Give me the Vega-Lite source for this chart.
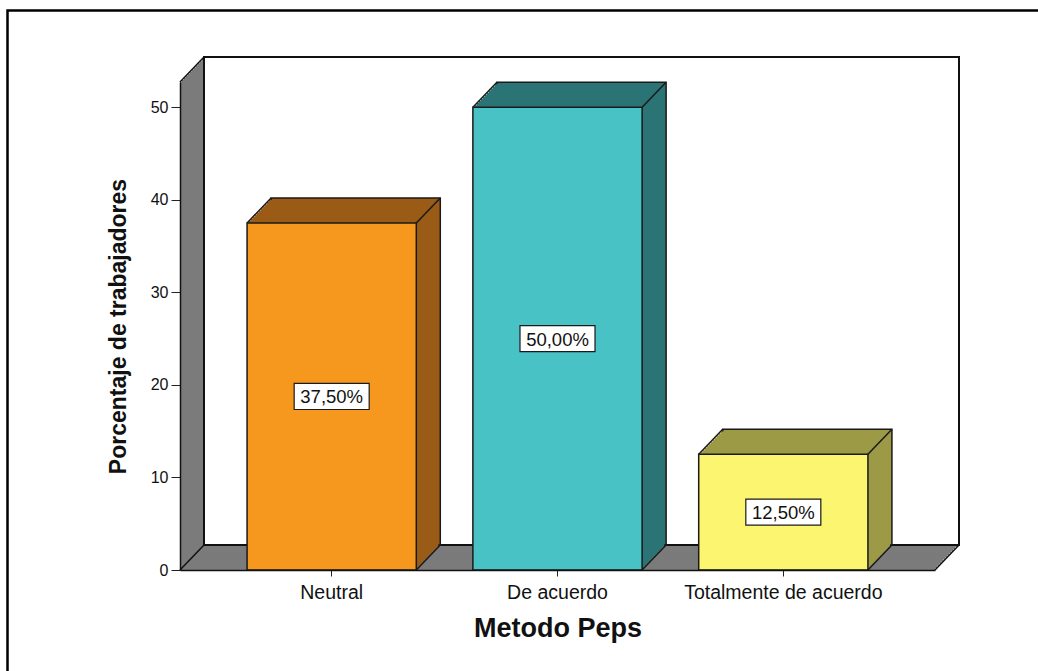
{
  "$schema": "https://vega.github.io/schema/vega-lite/v6.json",
  "width": 755,
  "height": 488,
  "autosize": {"type": "none"},
  "padding": {"left": 180, "top": 82, "right": 103, "bottom": 101},
  "background": "white",
  "config": {
    "view": {"stroke": null},
    "font": "Liberation Sans",
    "axis": {"labelFont": "Liberation Sans", "titleFont": "Liberation Sans", "labelColor": "#111", "titleColor": "#111", "tickColor": "#222", "domainColor": "#111"}
  },
  "data": {
    "values": [
      {"Metodo": "Neutral", "Porcentaje": 37.5},
      {"Metodo": "De acuerdo", "Porcentaje": 50},
      {"Metodo": "Totalmente de acuerdo", "Porcentaje": 12.5}
    ]
  },
  "resolve": {"scale": {"x": "independent", "y": "independent"}},
  "layer": [
    {
      "data": {"values": [{}]},
      "encoding": {
        "x": {"datum": 0, "type": "quantitative", "scale": {"domain": [0, 1], "nice": false, "zero": false}, "axis": null},
        "x2": {"datum": 1},
        "y": {"datum": 0, "type": "quantitative", "scale": {"domain": [0, 52.73], "nice": false}, "axis": null},
        "y2": {"datum": 52.73}
      },
      "layer": [
        {"mark": {"type": "rect", "fill": null, "stroke": "#000", "strokeWidth": 2.5, "xOffset": -172.5, "x2Offset": 200, "yOffset": 200, "y2Offset": -71.5}},
        {"mark": {"type": "rect", "fill": "#7b7b7b", "xOffset": 0, "x2Offset": 0, "yOffset": 0, "y2Offset": 0}},
        {"mark": {"type": "rect", "fill": "#7b7b7b", "xOffset": 2, "x2Offset": 2, "yOffset": -2.083, "y2Offset": -2.083}},
        {"mark": {"type": "rect", "fill": "#7b7b7b", "xOffset": 4, "x2Offset": 4, "yOffset": -4.167, "y2Offset": -4.167}},
        {"mark": {"type": "rect", "fill": "#7b7b7b", "xOffset": 6, "x2Offset": 6, "yOffset": -6.25, "y2Offset": -6.25}},
        {"mark": {"type": "rect", "fill": "#7b7b7b", "xOffset": 8, "x2Offset": 8, "yOffset": -8.333, "y2Offset": -8.333}},
        {"mark": {"type": "rect", "fill": "#7b7b7b", "xOffset": 10, "x2Offset": 10, "yOffset": -10.417, "y2Offset": -10.417}},
        {"mark": {"type": "rect", "fill": "#7b7b7b", "xOffset": 12, "x2Offset": 12, "yOffset": -12.5, "y2Offset": -12.5}},
        {"mark": {"type": "rect", "fill": "#7b7b7b", "xOffset": 14, "x2Offset": 14, "yOffset": -14.583, "y2Offset": -14.583}},
        {"mark": {"type": "rect", "fill": "#7b7b7b", "xOffset": 16, "x2Offset": 16, "yOffset": -16.667, "y2Offset": -16.667}},
        {"mark": {"type": "rect", "fill": "#7b7b7b", "xOffset": 18, "x2Offset": 18, "yOffset": -18.75, "y2Offset": -18.75}},
        {"mark": {"type": "rect", "fill": "#7b7b7b", "xOffset": 20, "x2Offset": 20, "yOffset": -20.833, "y2Offset": -20.833}},
        {"mark": {"type": "rect", "fill": "#7b7b7b", "xOffset": 22, "x2Offset": 22, "yOffset": -22.917, "y2Offset": -22.917}},
        {"mark": {"type": "rect", "fill": "#ffffff", "stroke": "#111", "strokeWidth": 2, "xOffset": 24, "x2Offset": 24, "yOffset": -25, "y2Offset": -25}},
        {
          "mark": {"type": "rule", "color": "#111", "strokeWidth": 1.5, "x2Offset": 24, "y2Offset": -25},
          "encoding": {"x2": {"datum": 0}, "y": {"datum": 52.73, "type": "quantitative", "scale": {"domain": [0, 52.73], "nice": false}, "axis": null}, "y2": {"datum": 52.73}}
        },
        {
          "mark": {"type": "rule", "color": "#111", "strokeWidth": 1.5, "x2Offset": 24, "y2Offset": -25},
          "encoding": {"x2": {"datum": 0}, "y2": {"datum": 0}}
        },
        {
          "mark": {"type": "rule", "color": "#111", "strokeWidth": 1.5, "x2Offset": 24, "y2Offset": -25},
          "encoding": {"x": {"datum": 1, "type": "quantitative", "scale": {"domain": [0, 1], "nice": false, "zero": false}, "axis": null}, "x2": {"datum": 1}, "y2": {"datum": 0}}
        }
      ]
    },
    {
      "encoding": {
        "x": {
          "field": "Metodo", "type": "nominal", "sort": null,
          "scale": {"type": "band", "paddingInner": 0.2506, "paddingOuter": 0.297},
          "axis": {"title": "Metodo Peps", "labelAngle": 0, "labelFontSize": 19.5, "labelLimit": 0, "labelOverlap": false, "tickSize": 6, "labelPadding": 7, "domainWidth": 1.5, "titleFontSize": 27, "titleFontWeight": "bold", "titlePadding": 14, "zindex": 1}
        },
        "y": {
          "field": "Porcentaje", "type": "quantitative",
          "scale": {"domain": [0, 52.73], "nice": false},
          "axis": {"title": "Porcentaje de trabajadores", "values": [0, 10, 20, 30, 40, 50], "grid": false, "labelFontSize": 16, "tickSize": 9, "labelPadding": 3, "domainWidth": 1.5, "titleFontSize": 23, "titleFontWeight": "bold", "titlePadding": 20, "zindex": 1}
        },
        "color": {
          "field": "Metodo", "type": "nominal",
          "scale": {"domain": ["Neutral", "De acuerdo", "Totalmente de acuerdo"], "range": ["#9a5b16", "#2b7476", "#9d9a46"]},
          "legend": null
        }
      },
      "layer": [
        {"mark": {"type": "bar", "stroke": "#1a1a1a", "strokeWidth": 1.5, "xOffset": 24, "x2Offset": 24, "yOffset": -25, "y2Offset": -25}},
        {"mark": {"type": "bar", "xOffset": 22, "x2Offset": 22, "yOffset": -22.917, "y2Offset": -22.917}},
        {"mark": {"type": "bar", "xOffset": 20, "x2Offset": 20, "yOffset": -20.833, "y2Offset": -20.833}},
        {"mark": {"type": "bar", "xOffset": 18, "x2Offset": 18, "yOffset": -18.75, "y2Offset": -18.75}},
        {"mark": {"type": "bar", "xOffset": 16, "x2Offset": 16, "yOffset": -16.667, "y2Offset": -16.667}},
        {"mark": {"type": "bar", "xOffset": 14, "x2Offset": 14, "yOffset": -14.583, "y2Offset": -14.583}},
        {"mark": {"type": "bar", "xOffset": 12, "x2Offset": 12, "yOffset": -12.5, "y2Offset": -12.5}},
        {"mark": {"type": "bar", "xOffset": 10, "x2Offset": 10, "yOffset": -10.417, "y2Offset": -10.417}},
        {"mark": {"type": "bar", "xOffset": 8, "x2Offset": 8, "yOffset": -8.333, "y2Offset": -8.333}},
        {"mark": {"type": "bar", "xOffset": 6, "x2Offset": 6, "yOffset": -6.25, "y2Offset": -6.25}},
        {"mark": {"type": "bar", "xOffset": 4, "x2Offset": 4, "yOffset": -4.167, "y2Offset": -4.167}},
        {"mark": {"type": "bar", "xOffset": 2, "x2Offset": 2, "yOffset": -2.083, "y2Offset": -2.083}},
        {
          "mark": {"type": "bar", "stroke": "#1a1a1a", "strokeWidth": 1.5},
          "encoding": {
            "fill": {
              "field": "Metodo", "type": "nominal",
              "scale": {"domain": ["Neutral", "De acuerdo", "Totalmente de acuerdo"], "range": ["#f7981e", "#49c2c6", "#fbf56f"]},
              "legend": null
            }
          }
        },
        {
          "mark": {"type": "rule", "color": "#1a1a1a", "strokeWidth": 1.5, "xOffset": -84.6, "x2Offset": -60.6, "y2Offset": -25},
          "encoding": {"color": {"value": "#1a1a1a"}, "x2": {"field": "Metodo"}, "y2": {"field": "Porcentaje"}}
        },
        {
          "mark": {"type": "rule", "color": "#1a1a1a", "strokeWidth": 1.5, "xOffset": 84.6, "x2Offset": 108.6, "y2Offset": -25},
          "encoding": {"color": {"value": "#1a1a1a"}, "x2": {"field": "Metodo"}, "y2": {"field": "Porcentaje"}}
        },
        {
          "mark": {"type": "rule", "color": "#1a1a1a", "strokeWidth": 1.5, "xOffset": 84.6, "x2Offset": 108.6, "y2Offset": -25},
          "encoding": {"color": {"value": "#1a1a1a"}, "x2": {"field": "Metodo"}, "y": {"datum": 0, "type": "quantitative", "scale": {"domain": [0, 52.73], "nice": false}}, "y2": {"datum": 0}}
        }
      ]
    },
    {
      "encoding": {
        "x": {"field": "Metodo", "type": "nominal", "sort": null, "scale": {"type": "band", "paddingInner": 0.2506, "paddingOuter": 0.297}, "axis": null},
        "y": {"field": "Porcentaje", "type": "quantitative", "scale": {"domain": [0, 105.46], "nice": false}, "axis": null}
      },
      "layer": [
        {"mark": {"type": "point", "shape": "M-1,-0.347L1,-0.347L1,0.347L-1,0.347Z", "size": 5625, "filled": true, "fill": "#ffffff", "stroke": "#1a1a1a", "strokeWidth": 1.2, "opacity": 1}},
        {"mark": {"type": "text", "text": {"expr": "replace(format(datum.Porcentaje, '.2f'), '.', ',') + '%'"}, "font": "Liberation Sans", "fontSize": 18.5, "color": "#111", "align": "center", "baseline": "middle", "dy": 1}}
      ]
    }
  ]
}
